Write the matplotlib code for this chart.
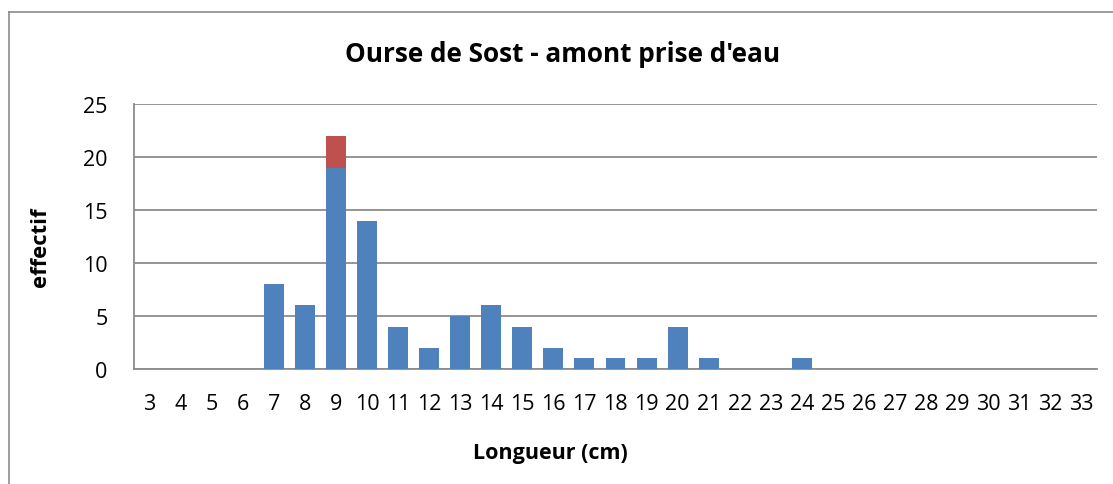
import matplotlib
matplotlib.use("Agg")
import matplotlib.pyplot as plt
from matplotlib.lines import Line2D

plt.rcParams['font.family'] = ['Open Sans', 'DejaVu Sans']

lengths = list(range(3, 34))
blue_vals = [0, 0, 0, 0, 8, 6, 19, 14, 4, 2, 5, 6, 4, 2, 1, 1, 1, 4, 1, 0, 0, 1,
             0, 0, 0, 0, 0, 0, 0, 0, 0]
red_vals = [0, 0, 0, 0, 0, 0, 3, 0, 0, 0, 0, 0, 0, 0, 0, 0, 0, 0, 0, 0, 0, 0,
            0, 0, 0, 0, 0, 0, 0, 0, 0]
y_ticks = [0, 5, 10, 15, 20, 25]
title = "Ourse de Sost - amont prise d'eau"
xlabel = "Longueur (cm)"
ylabel = "effectif"

W, H = 1113, 485
fig = plt.figure(figsize=(W / 100, H / 100), dpi=100)
ax = fig.add_axes([134 / W, 1 - 370 / H, (1097 - 134) / W, (370 - 105) / H])

x = list(range(len(lengths)))
ax.bar(x, blue_vals, width=0.64, color='#4F81BD', zorder=3)
ax.bar(x, red_vals, width=0.64, bottom=blue_vals, color='#C0504D', zorder=3)

ax.set_xlim(-0.5, len(lengths) - 0.5)
ax.set_ylim(0, 25)
ax.set_yticks(y_ticks)
ax.set_xticks(x)
ax.set_xticklabels([str(v) for v in lengths])
ax.yaxis.grid(True, color='#8C8C8C', linewidth=1.3, zorder=0)
ax.set_axisbelow(True)
for s in ['top', 'right']:
    ax.spines[s].set_visible(False)
ax.spines['left'].set_color('#8C8C8C')
ax.spines['bottom'].set_color('#8C8C8C')
ax.spines['left'].set_linewidth(1.3)
ax.spines['bottom'].set_linewidth(1.3)
ax.tick_params(axis='both', length=0, labelsize=15.5)
ax.tick_params(axis='x', pad=17)
ax.tick_params(axis='y', pad=19)

fig.text(563 / W, 1 - 54 / H, title, ha='center', va='center',
         fontsize=18.8, fontweight='bold')
fig.text(550 / W, 1 - 454 / H, xlabel, ha='center', va='center',
         fontsize=15.5, fontweight='bold')
fig.text(41 / W, 1 - 247 / H, ylabel, ha='center', va='center',
         rotation=90, fontsize=15.8, fontweight='bold')

fig.add_artist(Line2D([8.5 / W, 8.5 / W], [0, 1 - 13 / H], transform=fig.transFigure,
                      color='#8C8C8C', linewidth=1.2))
fig.add_artist(Line2D([8.5 / W, 1], [1 - 13 / H, 1 - 13 / H], transform=fig.transFigure,
                      color='#8C8C8C', linewidth=1.2))

fig.savefig('out.png', dpi=100)
